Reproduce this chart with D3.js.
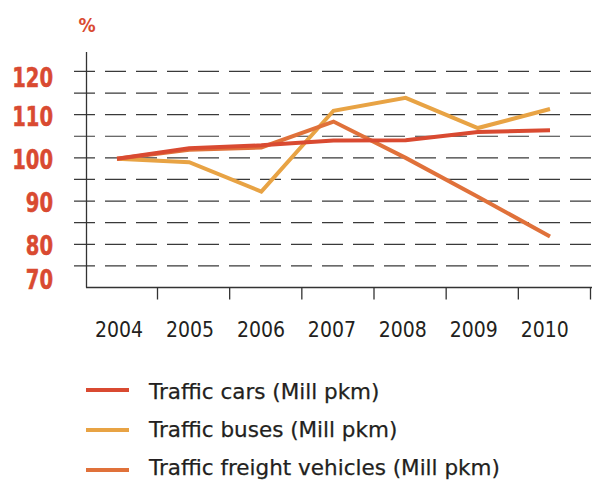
<!DOCTYPE html>
<html>
<head>
<meta charset="utf-8">
<script src="https://cdn.jsdelivr.net/npm/d3@7"></script>
<style>
  body { margin: 0; background: #fff; }
  svg { display: block; }
</style>
</head>
<body>
<svg id="chart" width="592" height="481"></svg>
<script>

// chart values
var years = ["2004", "2005", "2006", "2007", "2008", "2009", "2010"];
var cars = [99.8, 102.2, 102.9, 104.0, 104.1, 106.0, 106.4];
var buses = [99.8, 99.0, 92.2, 110.9, 113.9, 106.9, 111.3];
var freight = [99.8, 101.9, 102.4, 108.4, 100.0, 91.0, 81.8];
var gridValues = [75, 80, 85, 90, 95, 100, 105, 110, 115, 120];
var labelValues = [70, 80, 90, 100, 110, 120];
var seriesNames = ["Traffic cars (Mill pkm)", "Traffic buses (Mill pkm)",
					"Traffic freight vehicles (Mill pkm)"];
var seriesColours = ["#d94a31", "#e8a344", "#e0713a"];

var svg = d3.select("#chart");

var x = d3.scalePoint()
			.domain(years)
			.range([117, 550]);

var y = d3.scaleLinear()
			.domain([70, 124.5])
			.range([287.5, 52]);


// dashed grid lines
svg.append("g")
	.attr("class", "grid")
	.selectAll("line")
	.data(gridValues).enter()
	.append("line")
	.attr("x1", 74)
	.attr("x2", 592)
	.attr("y1", function(d) { return y(d); })
	.attr("y2", function(d) { return y(d); })
	.style("stroke", "#3a3a3a")
	.style("stroke-width", 1.2)
	.style("stroke-dasharray", "21,10");

// axes lines
svg.append("line")
	.attr("x1", 86.5).attr("x2", 86.5)
	.attr("y1", y(124.5)).attr("y2", y(70))
	.style("stroke", "#333").style("stroke-width", 1.3);

svg.append("line")
	.attr("x1", 86).attr("x2", 592)
	.attr("y1", y(70)).attr("y2", y(70))
	.style("stroke", "#333").style("stroke-width", 1.3);

// ticks between the years
svg.append("g")
	.selectAll("line")
	.data(years).enter()
	.append("line")
	.attr("x1", function(d) { return x(d) + 40.5; })
	.attr("x2", function(d) { return x(d) + 40.5; })
	.attr("y1", y(70))
	.attr("y2", y(70) + 12)
	.style("stroke", "#333").style("stroke-width", 1.3);

// year labels
svg.append("g")
	.selectAll("text")
	.data(years).enter()
	.append("text")
	.attr("x", function(d, i) { return x(d) + 2 - i * 1.2; })
	.attr("y", 337)
	.attr("text-anchor", "middle")
	.style("font-family", "'DejaVu Sans Condensed', 'DejaVu Sans', sans-serif")
	.style("font-stretch", "condensed")
	.style("font-size", "21px")
	.style("fill", "#231f20")
	.text(function(d) { return d; });

// percent labels, squeezed a bit to look like the narrow original
function labelY(d) {
	var pos = Math.min(y(d) + 1.5, y(70) - 8);
	return Math.max(pos, y(124.5) + 25);
}

svg.append("g")
	.selectAll("text")
	.data(labelValues).enter()
	.append("text")
	.attr("transform", function(d) {
		return "translate(53," + (labelY(d) + 9.5) + ") scale(0.82,1)"; })
	.attr("text-anchor", "end")
	.style("font-family", "'DejaVu Sans Condensed', 'DejaVu Sans', sans-serif")
	.style("font-stretch", "condensed")
	.style("font-weight", "bold")
	.style("font-size", "26.5px")
	.style("fill", "#d94a31")
	.style("stroke", "#d94a31")
	.style("stroke-width", 0.5)
	.text(function(d) { return d; });

svg.append("text")
	.attr("x", 87)
	.attr("y", 32)
	.attr("text-anchor", "middle")
	.style("font-family", "'DejaVu Sans Condensed', sans-serif")
	.style("font-weight", "bold")
	.style("font-size", "19px")
	.style("fill", "#d94a31")
	.text("%");


// series lines
var line = d3.line()
			.x(function(d, i) { return x(years[i]); })
			.y(function(d) { return y(d); });

var series = [buses, freight, cars];
var seriesColour = [seriesColours[1], seriesColours[2], seriesColours[0]];

svg.append("g")
	.selectAll("path")
	.data(series).enter()
	.append("path")
	.attr("d", function(d) { return line(d); })
	.style("fill", "none")
	.style("stroke", function(d, i) { return seriesColour[i]; })
	.style("stroke-width", 4)
	.style("stroke-linejoin", "miter");


// legend: the keys are 40px apart, the texts a bit closer
var legend = svg.append("g")
				.selectAll("g")
				.data(seriesNames).enter()
				.append("g");

legend.append("line")
	.attr("x1", 86).attr("x2", 129)
	.attr("y1", function(d, i) { return 390 + i * 40; })
	.attr("y2", function(d, i) { return 390 + i * 40; })
	.style("stroke", function(d, i) { return seriesColours[i]; })
	.style("stroke-width", 4);

legend.append("text")
	.attr("x", 149)
	.attr("y", function(d, i) { return 399 + i * 38; })
	.style("font-family", "'DejaVu Sans', sans-serif")
	.style("font-size", "21.5px")
	.style("fill", "#231f20")
	.style("stroke", "#231f20")
	.style("stroke-width", 0.25)
	.text(function(d) { return d; });

</script>
</body>
</html>
